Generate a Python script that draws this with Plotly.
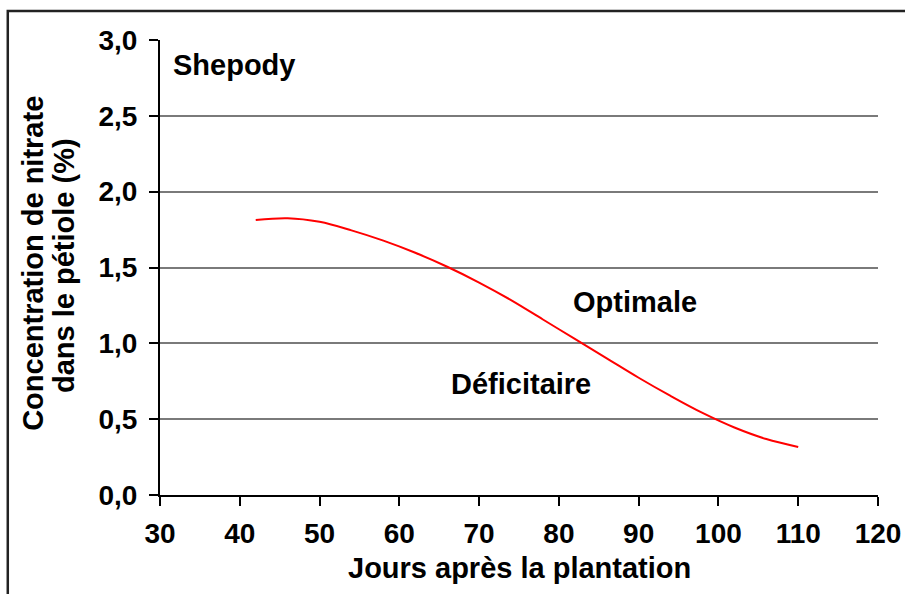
import plotly.graph_objects as go

days = [42, 46, 50, 54, 58, 62, 66, 70, 74, 78, 82, 86, 90, 94, 98, 102, 106, 110]
nitrate = [1.813, 1.825, 1.801, 1.745, 1.677, 1.597, 1.505, 1.401, 1.285, 1.157, 1.029,
           0.901, 0.773, 0.653, 0.541, 0.445, 0.369, 0.317]

x_ticks = [30, 40, 50, 60, 70, 80, 90, 100, 110, 120]
y_ticks = [0, 0.5, 1.0, 1.5, 2.0, 2.5, 3.0]
y_labels = ["0,0", "0,5", "1,0", "1,5", "2,0", "2,5", "3,0"]

font_family = "Liberation Sans, Arial, sans-serif"
TICK_SIZE = 28
TEXT_SIZE = 29

fig = go.Figure()
fig.add_trace(go.Scatter(x=days, y=nitrate, mode="lines",
                         line=dict(color="#ff0000", width=2, shape="spline", smoothing=1.0),
                         showlegend=False, hoverinfo="skip"))

fig.update_layout(
    width=905, height=594,
    margin=dict(l=160, r=27, t=40, b=99, autoexpand=False),
    paper_bgcolor="white", plot_bgcolor="white",
    font=dict(family=font_family, color="black"),
    xaxis=dict(range=[30, 120], tickvals=x_ticks, ticks="outside", ticklen=9, tickwidth=2,
               tickcolor="black", showline=True, linecolor="black", linewidth=2,
               showgrid=False, zeroline=False, ticklabelstandoff=3,
               tickfont=dict(size=TICK_SIZE, family=font_family, weight="bold")),
    yaxis=dict(range=[0, 3.0], tickvals=y_ticks, ticktext=y_labels, ticks="outside", ticklen=9,
               tickwidth=2, tickcolor="black", showline=True, linecolor="black", linewidth=2,
               showgrid=True, gridcolor="#7a7a7a", gridwidth=1.5, zeroline=False,
               ticklabelstandoff=6,
               tickfont=dict(size=TICK_SIZE, family=font_family, weight="bold")),
    shapes=[dict(type="rect", xref="paper", yref="paper", x0=-0.212, x1=1.2, y0=-0.4, y1=1.0637,
                 line=dict(color="#222222", width=2.5), fillcolor="rgba(0,0,0,0)", layer="above")],
    annotations=[
        dict(x=0.016, y=0.945, xref="paper", yref="paper", text="<b>Shepody</b>", showarrow=False,
             xanchor="left", yanchor="middle", font=dict(size=TEXT_SIZE, family=font_family)),
        dict(x=89.5, y=1.273, xref="x", yref="y", text="<b>Optimale</b>", showarrow=False,
             xanchor="center", yanchor="middle", font=dict(size=TEXT_SIZE, family=font_family)),
        dict(x=75.25, y=0.73, xref="x", yref="y", text="<b>Déficitaire</b>", showarrow=False,
             xanchor="center", yanchor="middle", font=dict(size=TEXT_SIZE, family=font_family)),
        dict(x=0.5, y=-0.160, xref="paper", yref="paper", text="<b>Jours après la plantation</b>",
             showarrow=False, xanchor="center", yanchor="middle",
             font=dict(size=TEXT_SIZE, family=font_family)),
        dict(x=-0.177, y=0.51, xref="paper", yref="paper", text="<b>Concentration de nitrate</b>",
             showarrow=False, xanchor="center", yanchor="middle", textangle=-90,
             font=dict(size=TEXT_SIZE, family=font_family)),
        dict(x=-0.134, y=0.505, xref="paper", yref="paper", text="<b>dans le pétiole (%)</b>",
             showarrow=False, xanchor="center", yanchor="middle", textangle=-90,
             font=dict(size=TEXT_SIZE, family=font_family)),
    ],
)

fig.write_html("out.html", config={"displayModeBar": False},
               post_script="document.body.style.margin='0';")
